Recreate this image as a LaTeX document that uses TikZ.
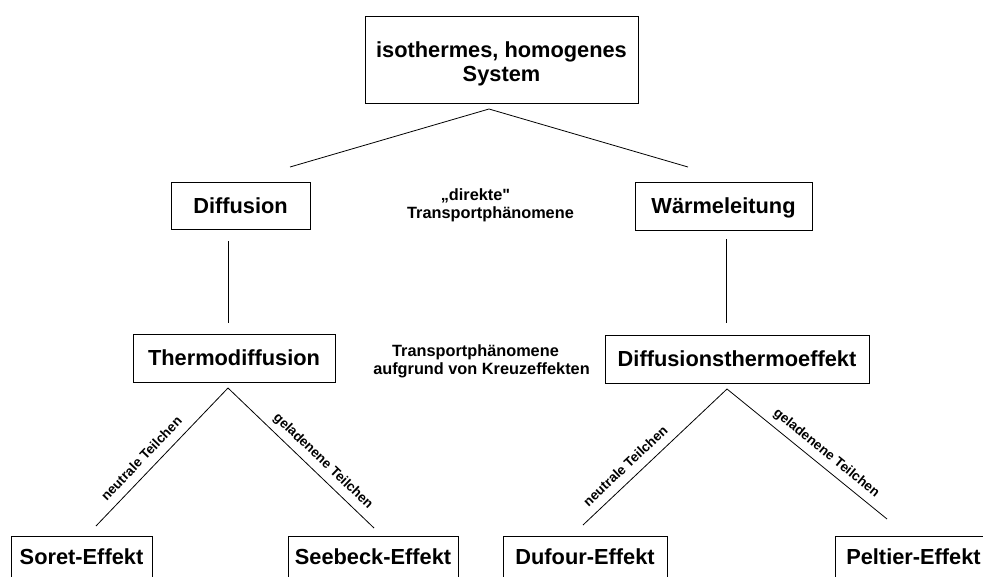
\documentclass[tikz,border=0pt]{standalone}
\usepackage{fontspec}
\setmainfont{Liberation Sans}[Ligatures=TeXOff]
\begin{document}
\begin{tikzpicture}[x=1pt,y=-1pt,
  box/.style={draw, line width=1pt, font=\bfseries\fontsize{21.8}{24.5}\selectfont,
    inner sep=0pt, text height=15.6pt, text depth=0pt},
  effbox/.style={draw, line width=1pt, anchor=north, font=\bfseries\fontsize{21.8}{24.5}\selectfont,
    inner xsep=0pt, inner ysep=12.4pt, text height=15.6pt, text depth=30pt},
  conn/.style={line width=0.8pt},
  lbl/.style={font=\bfseries\fontsize{13.5}{15}\selectfont, sloped, above,
    inner sep=6pt, text height=9.9pt, text depth=2.8pt},
  midtext/.style={font=\bfseries\fontsize{16.3}{18}\selectfont, align=center, inner sep=0pt}]
\useasboundingbox (0,0) rectangle (983,576);
\clip (0,0) rectangle (983,576);

% boxes
\node[draw, line width=1pt, font=\bfseries\fontsize{21.8}{24.5}\selectfont, align=center,
  inner sep=0pt, minimum width=273pt, minimum height=87pt] (top) at (501.5,59.5)
  {\rule{0pt}{24.6pt}isothermes, homogenes\\System};
\node[box, minimum width=139pt, minimum height=47pt] (diff) at (240.5,205.5) {Diffusion};
\node[box, minimum width=177pt, minimum height=48pt] (waerme) at (723.5,206) {Wärmeleitung};
\node[box, minimum width=202pt, minimum height=48pt] (thermo) at (234,358) {Thermodiffusion};
\node[box, minimum width=264pt, minimum height=48pt] (dte) at (737,359) {Diffusionsthermoeffekt};

\node[effbox, minimum width=141pt] (soret) at (81.5,536) {Soret-Effekt};
\node[effbox, minimum width=170pt] (seebeck) at (373,536) {Seebeck-Effekt};
\node[effbox, minimum width=164pt] (dufour) at (585,536) {Dufour-Effekt};
\node[effbox, minimum width=157pt] (peltier) at (913.5,536) {Peltier-Effekt};

% middle texts
\node[midtext] (direkt) at (490.5,204.8) {„direkte"\hspace*{30pt}\\Transportphänomene};
\node[midtext] (kreuz) at (481.5,361.8) {Transportphänomene\hspace*{12pt}\\aufgrund von Kreuzeffekten};

% connector end points
\coordinate (t0) at (489,109);
\coordinate (t1) at (290,167);
\coordinate (t2) at (688,167);
\coordinate (d0) at (228,241);
\coordinate (d1) at (228,323);
\coordinate (w0) at (726,239);
\coordinate (w1) at (726,323);
\coordinate (a0) at (228,388);
\coordinate (a1) at (96,526);
\coordinate (a2) at (374,528);
\coordinate (b0) at (727,389);
\coordinate (b1) at (583,525);
\coordinate (b2) at (887,519);

% connectors
\draw[conn] (t1) -- (t0) -- (t2);
\draw[conn] (d0) -- (d1);
\draw[conn] (w0) -- (w1);
\draw[conn] (a1) -- node[lbl, pos=0.42] {neutrale Teilchen} (a0);
\draw[conn] (a0) -- node[lbl, pos=0.59] {geladenene Teilchen} (a2);
\draw[conn] (b1) -- node[lbl, pos=0.36] {neutrale Teilchen} (b0);
\draw[conn] (b0) -- node[lbl, pos=0.57] {geladenene Teilchen} (b2);
\end{tikzpicture}
\end{document}
